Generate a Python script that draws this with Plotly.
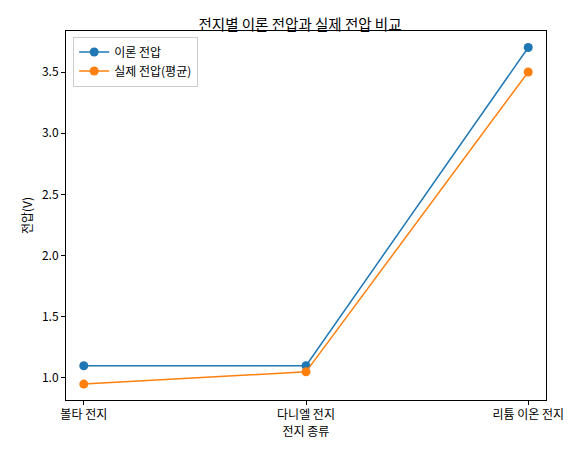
import plotly.graph_objects as go

cells = ["볼타 전지", "다니엘 전지", "리튬 이온 전지"]
theory = [1.1, 1.1, 3.7]
actual = [0.95, 1.05, 3.5]
yticks = [1.0, 1.5, 2.0, 2.5, 3.0, 3.5]

xs = list(range(len(cells)))
fig = go.Figure()
fig.add_trace(go.Scatter(x=xs, y=theory, mode="lines+markers", name="이론 전압",
                         line=dict(color="#1f77b4", width=1.5), marker=dict(size=9)))
fig.add_trace(go.Scatter(x=xs, y=actual, mode="lines+markers", name="실제 전압(평균)",
                         line=dict(color="#ff7f0e", width=1.5), marker=dict(size=9)))

axis = dict(showgrid=False, zeroline=False, showline=True, mirror=True, linecolor="black",
            ticks="outside", ticklen=4, tickcolor="black")
fig.update_layout(
    width=584, height=454, plot_bgcolor="white", paper_bgcolor="white",
    margin=dict(l=58, r=46, t=23, b=62),
    font=dict(family="Noto Sans CJK KR", size=12, color="black"),
    title=dict(text="전지별 이론 전압과 실제 전압 비교", x=0.5, xanchor="center", y=0.975, font=dict(size=14.5)),
    xaxis=dict(axis, range=[-0.08, 2.08], tickvals=xs, ticktext=cells,
               title=dict(text="전지 종류", standoff=3, font=dict(size=12))),
    yaxis=dict(axis, range=[0.82, 3.835], tickvals=yticks, ticktext=[f"{v:.1f}" for v in yticks],
               title=dict(text="전압(V)", standoff=6, font=dict(size=12))),
    legend=dict(x=0.015, y=0.985, xanchor="left", yanchor="top", bordercolor="#cccccc",
                borderwidth=1, bgcolor="rgba(255,255,255,0.8)"),
)
fig.write_html("out.html")
